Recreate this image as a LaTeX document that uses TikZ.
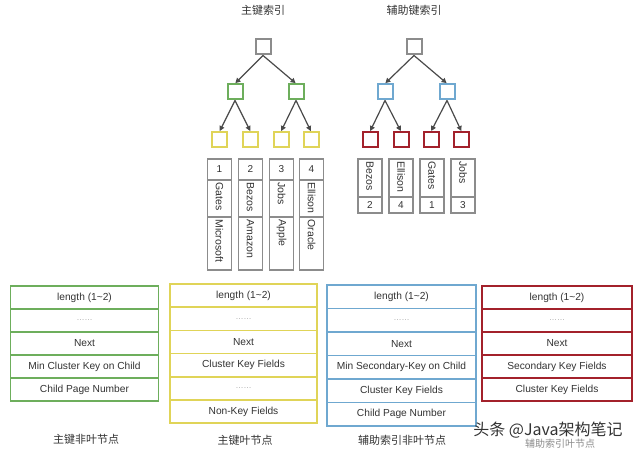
\documentclass[tikz,border=0pt]{standalone}
\usepackage{fontspec}
\setmainfont{Liberation Sans}
\newfontfamily\cjk{Noto Sans CJK SC}
\usetikzlibrary{arrows.meta}
\definecolor{cgray}{HTML}{8C8C8C}
\definecolor{cgreen}{HTML}{6DAE5C}
\definecolor{cyellow}{HTML}{E0D458}
\definecolor{cblue}{HTML}{6FA8D0}
\definecolor{cred}{HTML}{A3212B}
\definecolor{ctext}{HTML}{333333}
\definecolor{carrow}{HTML}{4A4A4A}
\tikzset{
  x=1pt, y=-1pt,
  tbox/.style={draw=#1, line width=2pt, minimum size=15pt, inner sep=0pt, fill=white},
  tarrow/.style={draw=carrow, line width=1.2pt, -{Triangle[length=5pt,width=5pt]}, shorten >=0.5pt},
  rowcell/.style={draw=#1, line width=1.5pt, inner sep=0pt, font=\fontsize{10.2}{11}\selectfont, text=ctext},
  reccell/.style={draw=cgray, line width=1.4pt, inner sep=0pt, minimum width=24pt},
  rectext/.style={rotate=-90, anchor=west, inner sep=0pt, font=\fontsize{10.5}{11}\selectfont, text=ctext},
  numtext/.style={inner sep=0pt, font=\fontsize{10}{11}\selectfont, text=ctext},
  dotstext/.style={font=\fontsize{8}{9}\selectfont, text=cgray!80},
  cjklabel/.style={font=\cjk\fontsize{11}{12}\selectfont, text=ctext},
}
\begin{document}
\begin{tikzpicture}
\useasboundingbox[fill=white] (0,0) rectangle (640,454);

% titles
\node[cjklabel] (t1) at (263,10) {主键索引};
\node[cjklabel] (t2) at (414,10) {辅助键索引};

% primary tree
\node[tbox=cgray] (pr) at (263,47) {};
\node[tbox=cgreen] (pg1) at (235,92) {};
\node[tbox=cgreen] (pg2) at (296,92) {};
\node[tbox=cyellow] (py1) at (219.5,140) {};
\node[tbox=cyellow] (py2) at (250.5,140) {};
\node[tbox=cyellow] (py3) at (281,140) {};
\node[tbox=cyellow] (py4) at (311,140) {};
\draw[tarrow] (pr.south) -- (pg1.north);
\draw[tarrow] (pr.south) -- (pg2.north);
\draw[tarrow] (pg1.south) -- (py1.north);
\draw[tarrow] (pg1.south) -- (py2.north);
\draw[tarrow] (pg2.south) -- (py3.north);
\draw[tarrow] (pg2.south) -- (py4.north);

% secondary tree
\node[tbox=cgray] (sr) at (414,47) {};
\node[tbox=cblue] (sb1) at (385,92) {};
\node[tbox=cblue] (sb2) at (447,92) {};
\node[tbox=cred] (sd1) at (370,140) {};
\node[tbox=cred] (sd2) at (401,140) {};
\node[tbox=cred] (sd3) at (431,140) {};
\node[tbox=cred] (sd4) at (461.5,140) {};
\draw[tarrow] (sr.south) -- (sb1.north);
\draw[tarrow] (sr.south) -- (sb2.north);
\draw[tarrow] (sb1.south) -- (sd1.north);
\draw[tarrow] (sb1.south) -- (sd2.north);
\draw[tarrow] (sb2.south) -- (sd3.north);
\draw[tarrow] (sb2.south) -- (sd4.north);

% primary records
\foreach \i/\cx/\n/\nm/\co in {1/219.5/1/Gates/Microsoft, 2/250.5/2/Bezos/Amazon, 3/281.5/3/Jobs/Apple, 4/311.5/4/Ellison/Oracle}{
  \node[reccell, minimum height=21pt] (pa\i) at (\cx,169.5) {};
  \node[numtext] (pan\i) at (pa\i.center) {\n};
  \node[reccell, minimum height=37pt] (pb\i) at (\cx,198.5) {};
  \node[rectext] (pbt\i) at ([yshift=-3pt]pb\i.north) {\nm};
  \node[reccell, minimum height=53pt] (pc\i) at (\cx,243.5) {};
  \node[rectext] (pct\i) at ([yshift=-3pt]pc\i.north) {\co};
}

% secondary records
\foreach \i/\cx/\nm/\n in {1/370/Bezos/2, 2/401/Ellison/4, 3/432/Gates/1, 4/463/Jobs/3}{
  \node[reccell, minimum height=38pt] (sa\i) at (\cx,178) {};
  \node[rectext] (sat\i) at ([yshift=-3pt]sa\i.north) {\nm};
  \node[reccell, minimum height=16pt] (sb\i) at (\cx,205) {};
  \node[numtext] (sbn\i) at (sb\i.center) {\n};
}

% green table
\begin{scope}[every node/.style={rowcell=cgreen, minimum width=148pt, minimum height=23pt}]
\node (g1) at (84.5,297.5) {length (1\textasciitilde2)};
\node (g2) at (84.5,320.5) {};
\node (g3) at (84.5,343.5) {Next};
\node (g4) at (84.5,366.5) {Min Cluster Key on Child};
\node (g5) at (84.5,389.5) {Child Page Number};
\end{scope}
\node[dotstext] (g2t) at (g2.center) {……};
\node[cjklabel] (gl) at (86,439) {主键非叶节点};

% yellow table
\begin{scope}[every node/.style={rowcell=cyellow, minimum width=147pt, minimum height=23.2pt}]
\node (y1) at (243.5,295.6) {length (1\textasciitilde2)};
\node (y2) at (243.5,318.8) {};
\node (y3) at (243.5,342) {Next};
\node (y4) at (243.5,365.2) {Cluster Key Fields};
\node (y5) at (243.5,388.4) {};
\node (y6) at (243.5,411.6) {Non-Key Fields};
\end{scope}
\node[dotstext] (y2t) at (y2.center) {……};
\node[dotstext] (y5t) at (y5.center) {……};
\node[cjklabel] (yl) at (245,440) {主键叶节点};

% blue table
\begin{scope}[every node/.style={rowcell=cblue, minimum width=149pt, minimum height=23.5pt}]
\node (b1) at (401.5,296.75) {length (1\textasciitilde2)};
\node (b2) at (401.5,320.25) {};
\node (b3) at (401.5,343.75) {Next};
\node (b4) at (401.5,367.25) {Min Secondary-Key on Child};
\node (b5) at (401.5,390.75) {Cluster Key Fields};
\node (b6) at (401.5,414.25) {Child Page Number};
\end{scope}
\node[dotstext] (b2t) at (b2.center) {……};
\node[cjklabel] (bl) at (402,440) {辅助索引非叶节点};

% red table
\begin{scope}[every node/.style={rowcell=cred, minimum width=150pt, minimum height=23pt}]
\node (r1) at (557,297.5) {length (1\textasciitilde2)};
\node (r2) at (557,320.5) {};
\node (r3) at (557,343.5) {Next};
\node (r4) at (557,366.5) {Secondary Key Fields};
\node (r5) at (557,389.5) {Cluster Key Fields};
\end{scope}
\node[dotstext] (r2t) at (r2.center) {……};
\node[cjklabel, text=cgray, font=\cjk\fontsize{10}{11}\selectfont] (rl) at (560,444) {辅助索引叶节点};

% watermark
\node[font=\cjk\fontsize{16}{18}\selectfont, text=ctext] (wm) at (548,430) {头条 @Java架构笔记};
\end{tikzpicture}
\end{document}
